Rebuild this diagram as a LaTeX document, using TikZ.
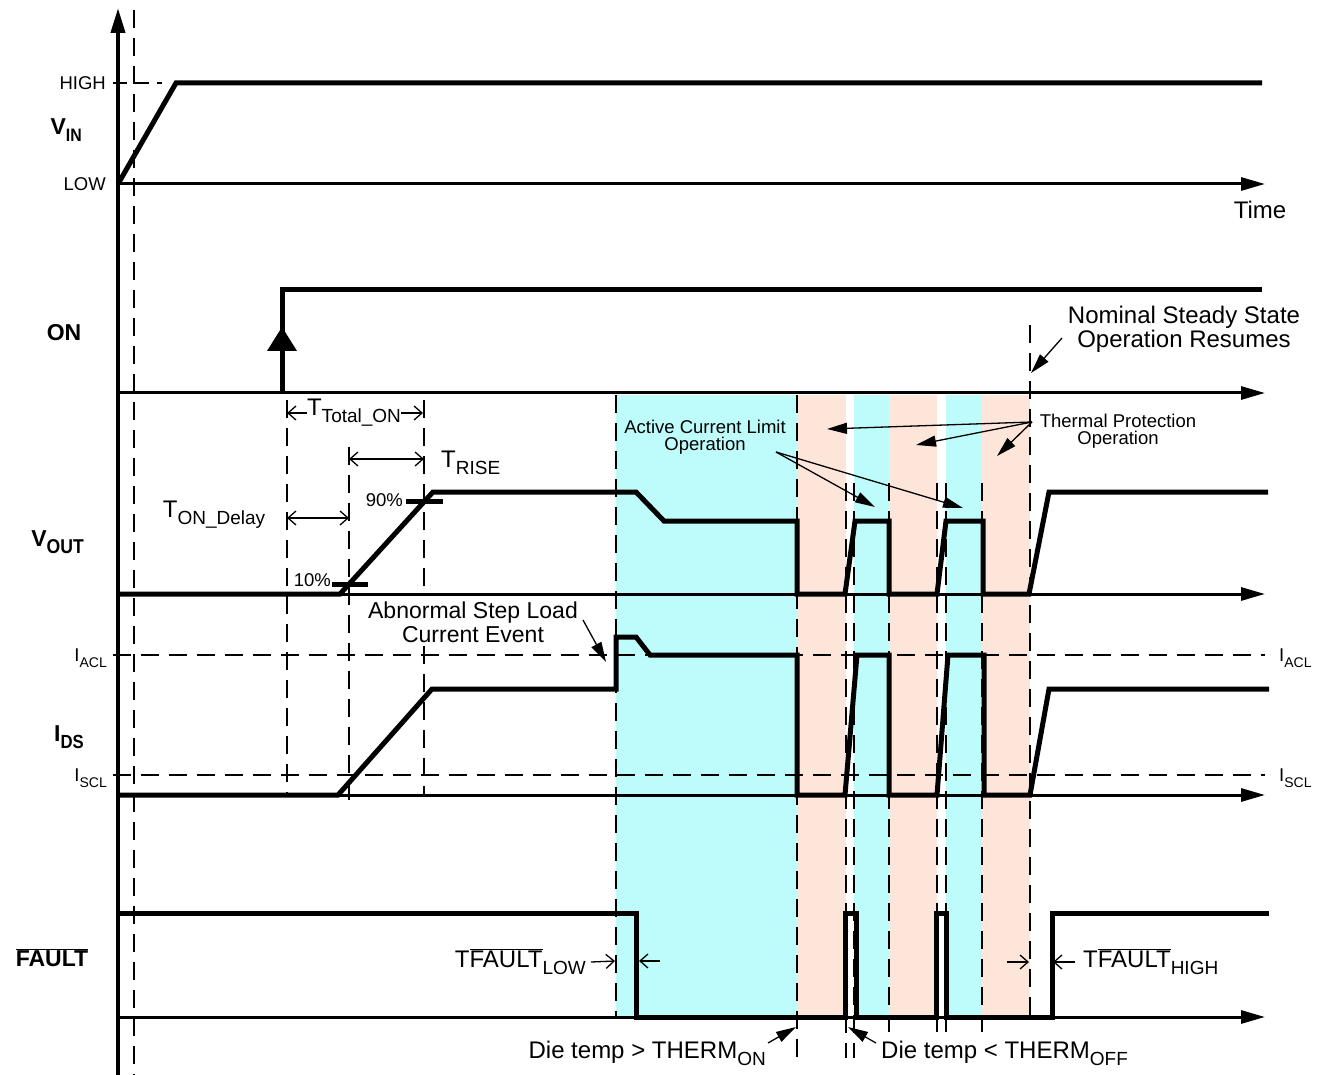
\documentclass[tikz,border=0pt]{standalone}
\usepackage{fontspec}
\setmainfont{Liberation Sans}
\usetikzlibrary{arrows.meta}
\definecolor{cyanbg}{RGB}{190,252,252}
\definecolor{salbg}{RGB}{253,229,218}
\newcommand{\fsz}[1]{\fontsize{#1}{#1}\selectfont}
\newcommand{\lowsub}[2]{\raisebox{-0.3em}{\fsz{#1}#2}}
\newcommand{\bsub}[2]{\raisebox{-0.28em}{\fsz{#1}\bfseries\scalebox{0.88}[1]{#2}}}
\newcommand{\ovl}[1]{$\overline{\hbox{#1}}$}
\tikzset{
  sig/.style={line width=5pt, line join=miter},
  axisline/.style={line width=3pt,-{Triangle[length=24pt,width=13pt]}},
  dsh/.style={line width=2pt, dash pattern=on 18pt off 10pt},
  ann/.style={line width=1.3pt,-{Triangle[length=20pt,width=11pt]}},
  tarr/.style={line width=1.3pt,-{Straight Barb[length=8pt,width=14pt]}},
  tdbl/.style={line width=1.3pt,{Straight Barb[length=8pt,width=14pt]}-{Straight Barb[length=8pt,width=14pt]}},
  lbl/.style={inner sep=0pt, font=\fsz{24}},
  sml/.style={inner sep=0pt, font=\fsz{18.5}},
  bigl/.style={inner sep=0pt, font=\fsz{23}\bfseries},
}
\begin{document}
\begin{tikzpicture}[x=1pt,y=-1pt]
\useasboundingbox (0,0) rectangle (1326,1075);

% shaded regions
\fill[cyanbg] (616,395) rectangle (797,1017);
\fill[salbg]  (797,395) rectangle (846,1017);
\fill[cyanbg] (854,395) rectangle (889,1017);
\fill[salbg]  (889,395) rectangle (937,1017);
\fill[cyanbg] (946,395) rectangle (982,1017);
\fill[salbg]  (982,395) rectangle (1030,1017);

% dashed guides
\draw[dsh] (134,10) -- (134,1075);
\draw[line width=2pt, dash pattern=on 14pt off 8pt] (113,83) -- (162,83);
\draw[dsh] (287,400) -- (287,795);
\draw[dsh] (349,447) -- (349,800);
\draw[dsh] (424,400) -- (424,588);
\draw[dsh] (424,646) -- (424,795);
\draw[dsh] (616,395) -- (616,1017);
\draw[dsh] (797,395) -- (797,1058);
\draw[dsh] (846,483) -- (846,1058);
\draw[dsh] (854,483) -- (854,1058);
\draw[dsh] (889,483) -- (889,1032);
\draw[dsh] (937,483) -- (937,1032);
\draw[dsh] (946,483) -- (946,1032);
\draw[dsh] (982,483) -- (982,1032);
\draw[dsh] (1030,325) -- (1030,1017);
\draw[dsh] (113,655) -- (1265,655);
\draw[dsh] (113,775) -- (1265,775);

% axes
\draw[line width=4pt,-{Triangle[length=25pt,width=14pt]}] (118,1075) -- (118,8);
\draw[axisline] (118,184) -- (1265,184);
\draw[axisline] (118,393) -- (1265,393);
\draw[axisline] (118,594) -- (1265,594);
\draw[axisline] (118,795) -- (1265,795);
\draw[axisline] (118,1017) -- (1265,1017);

% VIN
\draw[sig] (118,184) -- (176,83) -- (1262,83);
% ON
\draw[sig] (282,393) -- (282,290) -- (1262,290);
\fill (282,327) -- (297,351) -- (267,351) -- cycle;
% VOUT
\draw[sig] (118,594) -- (340,594) -- (433,492) -- (636,492) -- (664,521) -- (797,521)
  -- (797,594) -- (845,594) -- (855,521) -- (889,521) -- (889,594) -- (937,594)
  -- (946,521) -- (983,521) -- (983,594) -- (1029,594) -- (1049,492) -- (1268,492);
\draw[line width=5pt] (332,584) -- (368,584);
\draw[line width=5pt] (406,501) -- (443,501);
% IDS
\draw[sig] (118,795) -- (338,795) -- (432,689) -- (616,689) -- (616,637) -- (636,637)
  -- (650,655) -- (797,655) -- (797,795) -- (845,795) -- (857,655) -- (889,655)
  -- (889,795) -- (937,795) -- (948,655) -- (984,655) -- (984,795) -- (1030,795)
  -- (1049,689) -- (1269,689);
% FAULT
\draw[sig] (118,913) -- (636,913) -- (636,1017) -- (845,1017) -- (845,913) -- (856,913)
  -- (856,1017) -- (936,1017) -- (936,913) -- (946,913) -- (946,1017) -- (1052,1017)
  -- (1052,913) -- (1269,913);

% left labels
\node[bigl,anchor=east] (vin) at (82,130) {V\bsub{18}{IN}};
\node[bigl] (on) at (64,333) {ON};
\node[bigl,anchor=east] (vout) at (84,542) {V\bsub{20}{OUT}};
\node[bigl,anchor=east] (ids) at (84,737) {I\bsub{19}{DS}};
\node[bigl] (fault) at (52,958) {\ovl{FAULT}};
\node[sml,anchor=east] (high) at (106,83) {HIGH};
\node[sml,anchor=east] (low) at (106,184) {LOW};
\node[sml,anchor=east] (iacl) at (107,658) {I\lowsub{14}{ACL}};
\node[sml,anchor=east] (iscl) at (107,778) {I\lowsub{14}{SCL}};
\node[sml,anchor=west] (iaclr) at (1279,658) {I\lowsub{14}{ACL}};
\node[sml,anchor=west] (isclr) at (1279,778) {I\lowsub{14}{SCL}};
\node[lbl] (time) at (1260,210) {Time};
\node[sml,anchor=east] (p10) at (331,580) {10\%};
\node[sml,anchor=east] (p90) at (403,500) {90\%};

% timing annotations
\node[lbl] (ttot) at (354,413) {T\lowsub{19}{Total\_ON}};
\coordinate (tt1) at (287,413);
\coordinate (tt2) at (423,413);
\draw[tarr] (ttot.west) -- (tt1);
\draw[tarr] (ttot.east) -- (tt2);
\coordinate (tr1) at (349,459);
\coordinate (tr2) at (424,459);
\draw[tdbl] (tr1) -- (tr2);
\node[lbl,anchor=west] (trise) at (441,463) {T\lowsub{19}{RISE}};
\coordinate (td1) at (287,518);
\coordinate (td2) at (349,518);
\draw[tdbl] (td1) -- (td2);
\node[lbl] (tdel) at (214,515) {T\lowsub{19}{ON\_Delay}};

% region annotations
\node[sml,align=center] (acl) at (705,437) {Active Current Limit\\[-1pt]Operation};
\coordinate (aclo) at (776,452);
\coordinate (acl1) at (875,507);
\coordinate (acl2) at (963,508);
\draw[ann] (aclo) -- (acl1);
\draw[ann] (aclo) -- (acl2);
\node[sml,align=center] (tpo) at (1118,431) {Thermal Protection\\[-1pt]Operation};
\coordinate (tpoo) at (1032,422);
\coordinate (tp1) at (827,429);
\coordinate (tp2) at (916,445);
\coordinate (tp3) at (997,456);
\draw[ann] (tpoo) -- (tp1);
\draw[ann] (tpoo) -- (tp2);
\draw[ann] (tpoo) -- (tp3);
\node[inner sep=0pt,font=\fsz{24},align=center] (nss) at (1184,329) {Nominal Steady State\\[0pt]Operation Resumes};
\coordinate (nssa) at (1062,338);
\coordinate (nssb) at (1031,373);
\draw[ann] (nssa) -- (nssb);
\node[inner sep=0pt,font=\fsz{23},align=center] (asl) at (473,622) {Abnormal Step Load\\[1pt]Current Event};
\coordinate (asla) at (583,620);
\coordinate (aslb) at (606,662);
\draw[ann] (asla) -- (aslb);

% fault timing
\node[lbl,anchor=east] (tfl) at (586,962) {T\ovl{FAULT}\lowsub{19}{LOW}};
\coordinate (tfl1) at (615,961);
\coordinate (tfl2) at (660,961);
\coordinate (tfl3) at (639,961);
\draw[tarr] (tfl.east) ++(5,0) -- (tfl1);
\draw[tarr] (tfl2) -- (tfl3);
\coordinate (tfh1) at (1007,962);
\coordinate (tfh2) at (1029,962);
\coordinate (tfh3) at (1053,962);
\node[lbl,anchor=west] (tfh) at (1083,962) {T\ovl{FAULT}\lowsub{19}{HIGH}};
\draw[tarr] (tfh.west) ++(-8,0) -- (tfh3);
\draw[tarr] (tfh1) -- (tfh2);

% die temp
\node[lbl,anchor=east] (dton) at (766,1053) {Die temp > THERM\lowsub{19}{ON}};
\coordinate (dta) at (768,1043);
\coordinate (dtb) at (796,1027);
\draw[ann] (dta) -- (dtb);
\node[lbl,anchor=west] (dtoff) at (881,1053) {Die temp < THERM\lowsub{19}{OFF}};
\coordinate (dtc) at (876,1043);
\coordinate (dtd) at (848,1027);
\draw[ann] (dtc) -- (dtd);
\end{tikzpicture}
\end{document}
